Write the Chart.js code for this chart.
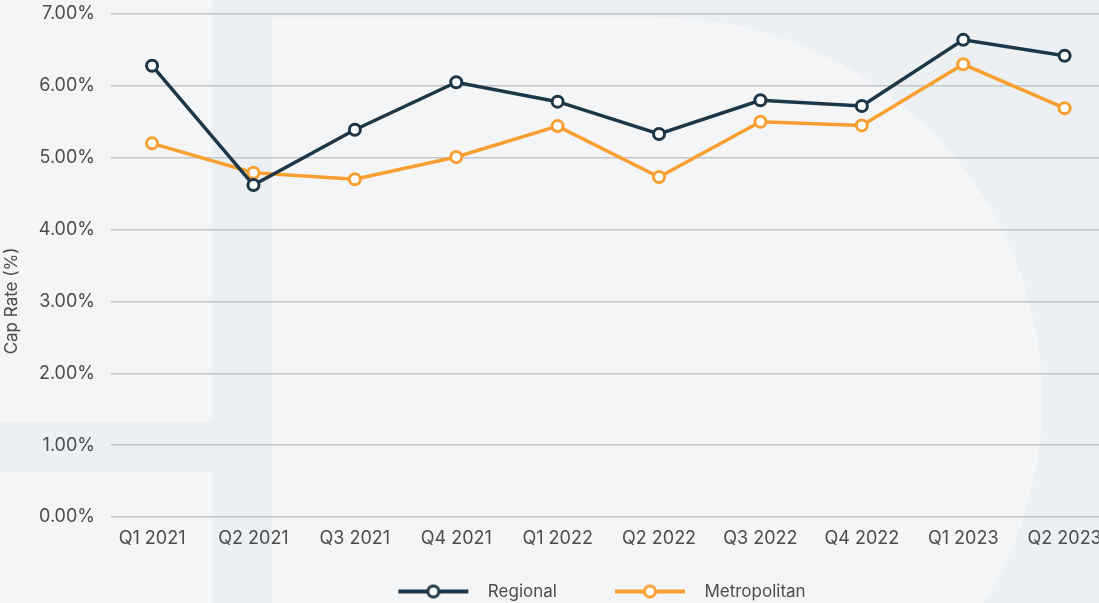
<!DOCTYPE html>
<html>
<head>
<meta charset="utf-8">
<script src="https://cdn.jsdelivr.net/npm/chart.js@4.4.1/dist/chart.umd.min.js"></script>
<style>
  html, body { margin: 0; padding: 0; background: #f4f5f7; overflow: hidden; width: 1099px; height: 603px; }
  #wrap { position: absolute; left: 0; top: 0; width: 1159px; height: 610px; }
  canvas { display: block; }
</style>
</head>
<body>
<div id="wrap"><canvas id="c" width="1159" height="610"></canvas></div>
<script>
const categories = ['Q1 2021', 'Q2 2021', 'Q3 2021', 'Q4 2021', 'Q1 2022', 'Q2 2022', 'Q3 2022', 'Q4 2022', 'Q1 2023', 'Q2 2023'];
const regional = [6.28, 4.62, 5.39, 6.05, 5.78, 5.33, 5.80, 5.72, 6.64, 6.42];
const metropolitan = [5.20, 4.79, 4.70, 5.01, 5.44, 4.73, 5.50, 5.45, 6.30, 5.69];
const yTicks = [0, 1, 2, 3, 4, 5, 6, 7];
const seriesNames = ['Regional', 'Metropolitan'];
const yTitle = 'Cap Rate (%)';

const NAVY = '#1e3748';
const ORANGE = '#f7a031';
const TEXT = '#4b4c4e';
const FONT = 'Inter, "DejaVu Sans", sans-serif';

function legendIcon(color) {
  const c = document.createElement('canvas');
  c.width = 126; c.height = 18;
  const g = c.getContext('2d');
  g.strokeStyle = color; g.lineWidth = 4;
  g.beginPath(); g.moveTo(45, 9); g.lineTo(115, 9); g.stroke();
  g.beginPath(); g.arc(80, 9, 5.5, 0, Math.PI * 2);
  g.fillStyle = '#ffffff'; g.fill();
  g.lineWidth = 3; g.stroke();
  return c;
}
const icons = [legendIcon(NAVY), legendIcon(ORANGE)];

const backdrop = {
  id: 'backdrop',
  beforeDraw(chart) {
    const ctx = chart.ctx, W = chart.width, H = chart.height;
    const light = '#f4f5f7', dark = '#edf0f3';
    ctx.save();
    ctx.fillStyle = light; ctx.fillRect(0, 0, W, H);
    ctx.fillStyle = dark;
    ctx.fillRect(212, 0, W - 212, H);
    ctx.fillRect(0, 422, 212, 50);
    ctx.fillStyle = light;
    ctx.fillRect(272, 17, 660 - 272, H);
    ctx.beginPath(); ctx.arc(660, 400, 382, 0, Math.PI * 2); ctx.fill();
    ctx.fillStyle = dark;
    ctx.fillRect(212, 0, 60, H);
    ctx.fillRect(212, 0, W - 212, 17);
    ctx.restore();
  }
};

const axisTitle = {
  id: 'axisTitle',
  afterDraw(chart) {
    const ctx = chart.ctx;
    ctx.save();
    ctx.translate(12, 301);
    ctx.rotate(-Math.PI / 2);
    ctx.font = '17px ' + FONT;
    ctx.fillStyle = TEXT;
    ctx.textAlign = 'center';
    ctx.textBaseline = 'middle';
    ctx.fillText(yTitle, 0, 0);
    ctx.restore();
  }
};

const mkSet = (label, vals, color) => ({
  label,
  data: vals.map((v, i) => ({ x: i, y: v })),
  borderColor: color,
  backgroundColor: '#ffffff',
  borderWidth: 3.5,
  pointRadius: 5.5,
  pointHoverRadius: 5.5,
  pointBorderWidth: 3,
  pointBackgroundColor: '#ffffff',
  pointBorderColor: color,
  tension: 0
});

new Chart(document.getElementById('c'), {
  type: 'line',
  data: {
    datasets: [
      mkSet(seriesNames[0], regional, NAVY),
      mkSet(seriesNames[1], metropolitan, ORANGE)
    ]
  },
  options: {
    responsive: false,
    animation: false,
    devicePixelRatio: 1,
    layout: { padding: { top: 14, left: 0, right: 0, bottom: 0 } },
    scales: {
      x: {
        type: 'linear',
        min: -0.405,
        max: 9.847,
        grid: { display: false },
        border: { display: false },
        afterBuildTicks: (s) => { s.ticks = categories.map((_, i) => ({ value: i })); },
        afterFit: (s) => { s.height = 53; },
        ticks: {
          autoSkip: false,
          maxRotation: 0,
          padding: 3,
          color: TEXT,
          font: { family: FONT, size: 18 },
          callback: (v) => categories[v]
        }
      },
      y: {
        min: 0,
        max: 7,
        afterBuildTicks: (s) => { s.ticks = yTicks.map(v => ({ value: v })); },
        afterFit: (s) => { s.width = 111; },
        grid: { color: '#c4c6c9', lineWidth: 1.5, drawTicks: true, tickLength: 16, tickColor: 'rgba(0,0,0,0)' },
        border: { display: false },
        ticks: {
          padding: 0,
          color: TEXT,
          font: { family: FONT, size: 18 },
          callback: (v) => v.toFixed(2) + '%'
        }
      }
    },
    plugins: {
      tooltip: { enabled: false },
      legend: {
        position: 'bottom',
        labels: {
          usePointStyle: true,
          pointStyleWidth: 126,
          padding: 13,
          color: TEXT,
          font: { family: FONT, size: 17 },
          generateLabels: (chart) => {
            const items = Chart.defaults.plugins.legend.labels.generateLabels(chart);
            items.forEach((it, i) => { it.pointStyle = icons[i]; });
            return items;
          }
        }
      }
    }
  },
  plugins: [backdrop, axisTitle]
});
</script>
</body>
</html>
